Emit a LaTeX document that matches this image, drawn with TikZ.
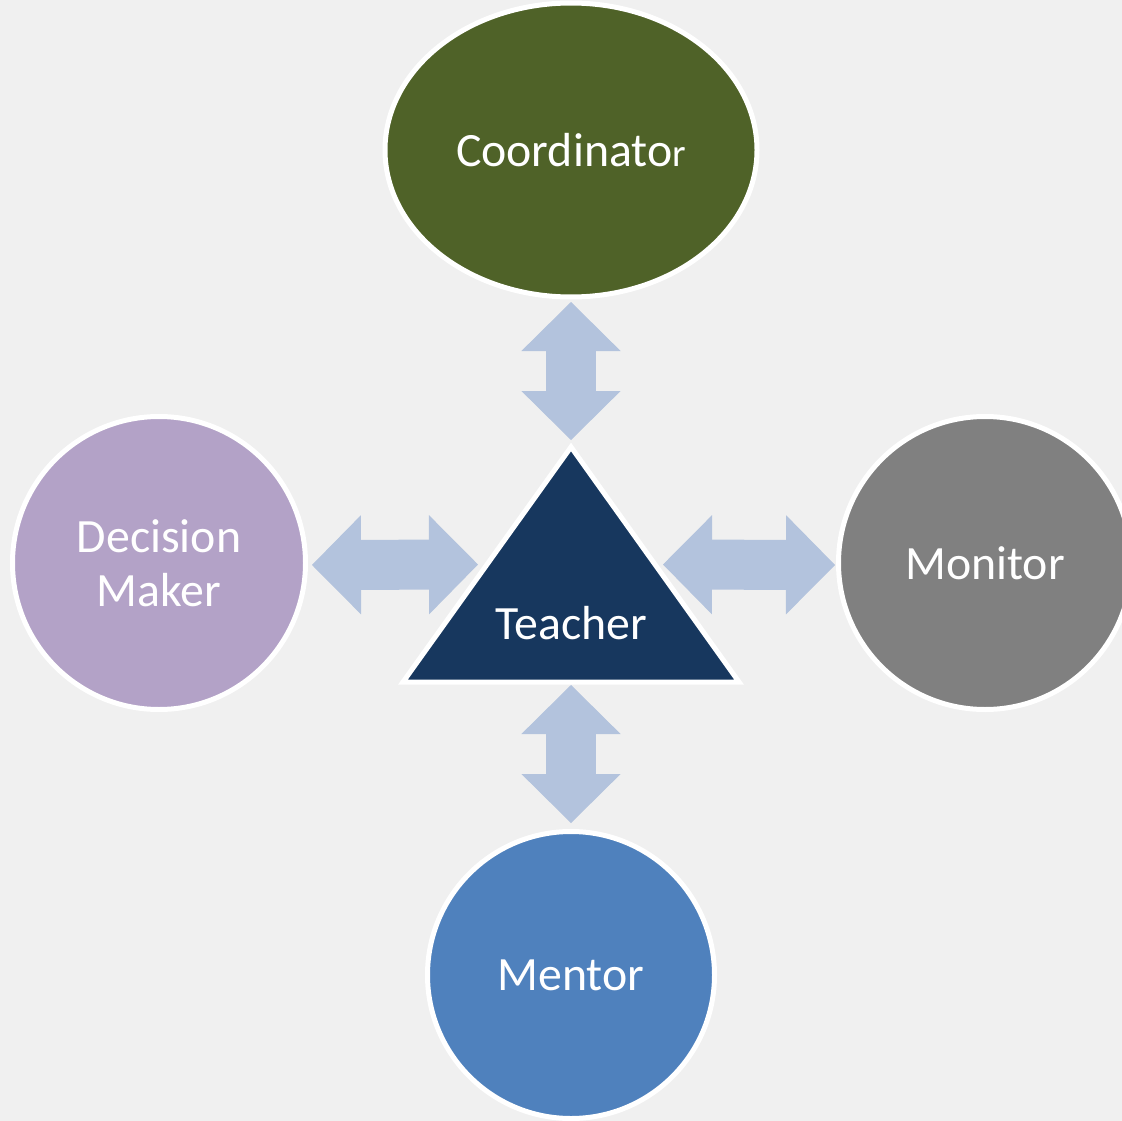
\documentclass[tikz,border=0pt]{standalone}
\usepackage{fontspec}
\setmainfont{Carlito}
\usetikzlibrary{shapes.geometric,arrows.meta,calc}
\definecolor{bggray}{HTML}{F0F0F0}
\definecolor{coordgreen}{HTML}{4F6228}
\definecolor{decisionlilac}{HTML}{B3A2C7}
\definecolor{monitorgray}{HTML}{808080}
\definecolor{mentorblue}{HTML}{4F81BD}
\definecolor{teachernavy}{HTML}{17375E}
\definecolor{linkblue}{HTML}{B3C3DD}
\begin{document}
\begin{tikzpicture}[
        x=1pt, y=-1pt,
        role/.style={draw=white, line width=5pt, text=white, align=center, font=\fontsize{47.8}{54}\selectfont},
        roundrole/.style={role, circle, minimum size=293pt},
        lbl/.style={text=white, font=\fontsize{47.8}{54}\selectfont},
        link/.style={draw=linkblue, line width=50pt, {Triangle[width=99pt,length=49pt,line width=1pt]}-{Triangle[width=99pt,length=49pt,line width=1pt]}},
    ]
    \fill[bggray] (0,0) rectangle (1122,1121);
    \useasboundingbox (0,0) rectangle (1122,1121);
    \node[role, ellipse, fill=coordgreen, minimum width=372pt, minimum height=294pt](coordinator) at (571,150){Coordinato{\fontsize{39}{39}\selectfont r}};
    \node[roundrole, fill=decisionlilac](decision) at (159,563){Decision\\Maker};
    \node[roundrole, fill=monitorgray](monitor) at (985,563){Monitor};
    \node[roundrole, fill=mentorblue, minimum size=287pt](mentor) at (571,975){Mentor};
    % teacher triangle
    \draw[draw=white, line width=5pt, fill=teachernavy] (571,447) coordinate(apex) -- (739,682) coordinate(rcorner) -- (403,682) coordinate(lcorner) -- cycle;
    \node[lbl](teacher) at (571,623){Teacher};
    \coordinate (base) at (571,684);
    % links
    \draw[link, shorten <=2.5pt, shorten >=7pt] (coordinator.south) -- (apex);
    \draw[link, shorten <=1pt, shorten >=6pt] (base) -- (mentor.north);
    \draw[link, shorten <=4pt, shorten >=9pt] (decision.east |- 0,565) -- ($(apex)!0.5!(lcorner)$);
    \draw[link, shorten <=8pt, shorten >=1pt] ($(apex)!0.5!(rcorner)$) -- (monitor.west |- 0,565);
\end{tikzpicture}
\end{document}
